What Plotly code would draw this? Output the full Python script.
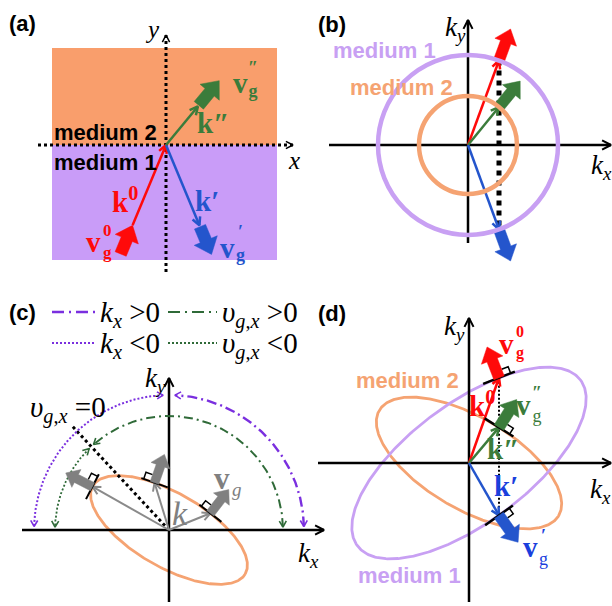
import numpy as np
import plotly.graph_objects as go

W, H = 612, 606
SERIF = "Liberation Serif"
SANS = "Liberation Sans"

# ---------------- (a) rays at a flat interface (real space) ----------------
A_MEDIUM2_BOX = [-114, 111, 0, 97]        # x0, x1, y0, y1
A_MEDIUM1_BOX = [-114, 111, -115, 0]
A_AXIS_X = [-128, 127]
A_AXIS_Y = [-127, 110]
A_RAY_NAMES = ["incident", "reflected", "transmitted"]
A_RAY_ANGLES = [67.4, -67.4, 50.4]        # degrees from +x
A_K_LENGTHS = [87, 87, 50]
A_VG_LENGTHS = [31, 30, 32]

# ---------------- (b) isotropic media: circular contours ----------------
B_RADII = [90, 49]                        # medium 1, medium 2
B_KX = 31                                 # conserved tangential wavevector
B_VG_LENGTH = 32
B_AXIS_X = [-139, 143]
B_AXIS_Y = [-98, 125]

# ---------------- (c) anisotropic contour, group velocity normal to it ----------------
C_ELLIPSE = [88, 37, -30]                 # semi-major, semi-minor, tilt (deg)
C_K_ANGLES = [150.5, 107, 22]             # sampled wavevector directions
C_MARK_SIDES = [1, -1, -1]
C_VG_LENGTH = 30
C_ARC_RADII = [135, 114]                  # sign of k_x arcs, sign of v_gx arcs
C_V0_LENGTH = 141
C_AXIS_X = [-147, 155]
C_AXIS_Y = [-72, 152]

# ---------------- (d) anisotropic media 1 and 2 ----------------
D_MEDIUM1 = [139, 60, 36.6]
D_MEDIUM2 = [104, 46, -30.4]
D_KX = 30
D_VG_LENGTH = 33
D_AXIS_X = [-151, 142]
D_AXIS_Y = [-139, 145]

# canvas position (px) of each panel's origin
PANEL_ORIGINS = [(166, 145), (468, 145), (169, 530), (469, 463)]

ORANGE_FILL = "#F99E6C"
PURPLE_FILL = "#C99CF8"
ORANGE_LINE = "#F5A372"
PURPLE_LINE = "#C8A0F3"
RED = "#FF0A0A"
GREEN = "#3B7C3B"
BLUE = "#2455CC"
DBLUE = "#1A3FDD"
GRAY = "#808080"
VIOLET = "#7A2FDF"
DKGREEN = "#2F6A38"

fig = go.Figure()


def refs(p):
    return ("x", "y") if p == 1 else (f"x{p}", f"y{p}")


def unit(deg):
    r = np.radians(deg)
    return np.array([np.cos(r), np.sin(r)])


def rot(v, deg):
    r = np.radians(deg)
    c, s = np.cos(r), np.sin(r)
    return np.array([v[0] * c - v[1] * s, v[0] * s + v[1] * c])


def path(p, pts, color, width, dash=None):
    pts = np.asarray(pts, float)
    xr, yr = refs(p)
    fig.add_trace(go.Scatter(x=pts[:, 0], y=pts[:, 1], mode="lines",
                             line=dict(color=color, width=width, dash=dash),
                             xaxis=xr, yaxis=yr, hoverinfo="skip", showlegend=False))


def polygon(p, pts, color):
    pts = np.asarray(pts, float)
    xr, yr = refs(p)
    fig.add_trace(go.Scatter(x=np.append(pts[:, 0], pts[0, 0]), y=np.append(pts[:, 1], pts[0, 1]),
                             mode="lines", fill="toself", fillcolor=color,
                             line=dict(color=color, width=0.5),
                             xaxis=xr, yaxis=yr, hoverinfo="skip", showlegend=False))


def head(p, tip, d, color, width, size=8, spread=27):
    d = np.asarray(d, float)
    back = -d / np.linalg.norm(d)
    tip = np.asarray(tip, float)
    path(p, [tip + size * rot(back, spread), tip, tip + size * rot(back, -spread)], color, width)


def arrow(p, start, end, color, width, size=8, dash=None):
    start, end = np.asarray(start, float), np.asarray(end, float)
    path(p, [start, end], color, width, dash)
    head(p, end, end - start, color, width, size)


def fat(p, start, d, length, color, shaft=10, hw=20, hl=13):
    d = np.asarray(d, float)
    d = d / np.linalg.norm(d)
    n = np.array([-d[1], d[0]])
    start = np.asarray(start, float)
    neck = start + d * (length - hl)
    tip = start + d * length
    polygon(p, [start + n * shaft / 2, neck + n * shaft / 2, neck + n * hw / 2, tip,
                neck - n * hw / 2, neck - n * shaft / 2, start - n * shaft / 2], color)


def tangent(p, pt, nrm, side, half=17, box=6, shaft=10, width=2.5):
    t = np.array([nrm[1], -nrm[0]]) * side
    pt = np.asarray(pt, float)
    path(p, [pt - half * t, pt + half * t], "black", width)
    path(p, [pt + (shaft / 2) * t + box * nrm, pt + (shaft / 2 + box) * t + box * nrm,
             pt + (shaft / 2 + box) * t], "black", 1.5)


def label(p, x, y, s, size, color="black", family=SERIF, anchor="center"):
    xr, yr = refs(p)
    fig.add_annotation(x=x, y=y, xref=xr, yref=yr, text=s, showarrow=False,
                       font=dict(family=family, size=size, color=color),
                       xanchor=anchor, yanchor="middle", borderpad=0)


def axes(p, xs, ys, width=2.5):
    path(p, [[xs[0], 0], [xs[1], 0]], "black", width)
    head(p, [xs[1], 0], [1, 0], "black", 2, size=10)
    path(p, [[0, ys[0]], [0, ys[1]]], "black", width)
    head(p, [0, ys[1]], [0, 1], "black", 2, size=10)


# ---- conic helpers for the iso-frequency contours ----
def conic(a, b, tilt):
    t = np.radians(tilt)
    c, s = np.cos(t), np.sin(t)
    return (c * c / a ** 2 + s * s / b ** 2, 2 * s * c * (1 / a ** 2 - 1 / b ** 2), s * s / a ** 2 + c * c / b ** 2)


def contour(a, b, tilt, n=361):
    t = np.linspace(0, 2 * np.pi, n)
    th = np.radians(tilt)
    x = a * np.cos(t) * np.cos(th) - b * np.sin(t) * np.sin(th)
    y = a * np.cos(t) * np.sin(th) + b * np.sin(t) * np.cos(th)
    return np.column_stack([x, y])


def on_ray(q, deg):
    A, B, C = q
    d = unit(deg)
    return d / np.sqrt(A * d[0] ** 2 + B * d[0] * d[1] + C * d[1] ** 2)


def at_kx(q, kx):
    A, B, C = q
    disc = np.sqrt((B * kx) ** 2 - 4 * C * (A * kx ** 2 - 1))
    return np.array([kx, (-B * kx + disc) / (2 * C)]), np.array([kx, (-B * kx - disc) / (2 * C)])


def normal(q, pt):
    A, B, C = q
    g = np.array([2 * A * pt[0] + B * pt[1], B * pt[0] + 2 * C * pt[1]])
    return g / np.linalg.norm(g)


def arc(p, r, a0, a1, color, width, dash):
    ang = np.radians(np.linspace(a0, a1, 120))
    path(p, np.column_stack([r * np.cos(ang), r * np.sin(ang)]), color, width, dash)
    head(p, r * unit(a1), rot(unit(a1), 90), color, 1.6, size=7, spread=30)
    head(p, r * unit(a0), rot(unit(a0), -90), color, 1.6, size=7, spread=30)


VSIZE = 29      # bold vector letters
SSIZE = 17      # their stacked super/subscripts

# ======================= panel (a) =======================
fig.add_shape(type="rect", xref="x", yref="y", x0=A_MEDIUM2_BOX[0], x1=A_MEDIUM2_BOX[1],
              y0=A_MEDIUM2_BOX[2], y1=A_MEDIUM2_BOX[3], fillcolor=ORANGE_FILL, line_width=0, layer="below")
fig.add_shape(type="rect", xref="x", yref="y", x0=A_MEDIUM1_BOX[0], x1=A_MEDIUM1_BOX[1],
              y0=A_MEDIUM1_BOX[2], y1=A_MEDIUM1_BOX[3], fillcolor=PURPLE_FILL, line_width=0, layer="below")
path(1, [[A_AXIS_X[0], 0], [A_AXIS_X[1], 0]], "black", 3, "dot")
head(1, [A_AXIS_X[1], 0], [1, 0], "black", 1.5, size=8)
path(1, [[0, A_AXIS_Y[0]], [0, A_AXIS_Y[1]]], "black", 3, "dot")
head(1, [0, A_AXIS_Y[1]], [0, 1], "black", 1.5, size=8)

ray_colors = [RED, BLUE, GREEN]
for name, ang, kl, vl, col in zip(A_RAY_NAMES, A_RAY_ANGLES, A_K_LENGTHS, A_VG_LENGTHS, ray_colors):
    d = unit(ang)
    if name == "incident":
        tail = -kl * d
        arrow(1, tail, [0, 0], col, 2.5, size=9)
        fat(1, tail - vl * d, d, vl, col, shaft=12, hw=25, hl=15)
    else:
        tip = kl * d
        arrow(1, [0, 0], tip, col, 2.5, size=9)
        fat(1, tip + 1.5 * d, d, vl, col, shaft=12, hw=25, hl=15)

label(1, -144, 122, "<b>(a)</b>", 22, family=SANS)
label(1, -14, 116, "<i>y</i>", 25)
label(1, 128, -15, "<i>x</i>", 25)
label(1, -61, 13, "<b>medium 2</b>", 22, family=SANS)
label(1, -61, -17, "<b>medium 1</b>", 22, family=SANS)
label(1, -41, -55, "<b>k</b><sup><b>0</b></sup>", VSIZE, RED)
label(1, -73, -97, "<b>v</b>", VSIZE, RED)
label(1, -59, -96, "<b>0</b><br><b>g</b>", SSIZE, RED)
label(1, 47, 22, "<b>k\u2033</b>", VSIZE, GREEN)
label(1, 74, 62, "<b>v</b>", VSIZE, GREEN)
label(1, 87, 66, "<b>\u2033</b><br><b>g</b>", 18, GREEN)
label(1, 41, -56, "<b>k\u2032</b>", VSIZE, BLUE)
label(1, 61, -103, "<b>v</b>", VSIZE, BLUE)
label(1, 74, -98, "<b>\u2032</b><br><b>g</b>", 18, BLUE)

# ======================= panel (b) =======================
for r, col in zip(B_RADII, [PURPLE_LINE, ORANGE_LINE]):
    fig.add_shape(type="circle", xref="x2", yref="y2", x0=-r, x1=r, y0=-r, y1=r,
                  line=dict(color=col, width=4.5))
axes(2, B_AXIS_X, B_AXIS_Y)
q1 = conic(B_RADII[0], B_RADII[0], 0)
q2 = conic(B_RADII[1], B_RADII[1], 0)
b_inc, b_ref = at_kx(q1, B_KX)
b_tr, _ = at_kx(q2, B_KX)
path(2, [b_inc, b_ref], "black", 5, "5px,5px")
for pt, col in [(b_inc, RED), (b_tr, GREEN), (b_ref, BLUE)]:
    arrow(2, [0, 0], pt, col, 2.5, size=9)
    d = pt / np.linalg.norm(pt)
    fat(2, pt + 1.5 * d, d, B_VG_LENGTH, col, shaft=11, hw=23, hl=14)
label(2, -136, 121, "<b>(b)</b>", 22, family=SANS)
label(2, -13, 116, "<i>k</i><sub><i>y</i></sub>", 27)
label(2, 133, -22, "<i>k</i><sub><i>x</i></sub>", 27)
label(2, -84, 95, "<b>medium 1</b>", 22, PURPLE_LINE, SANS)
label(2, -67, 58, "<b>medium 2</b>", 22, ORANGE_LINE, SANS)

# ======================= panel (c) =======================
qc = conic(*C_ELLIPSE)
path(3, contour(*C_ELLIPSE), ORANGE_LINE, 2.8)
axes(3, C_AXIS_X, C_AXIS_Y)
A_, B_, C_ = qc
phi0 = np.degrees(np.arctan2(2 * A_, -B_))      # direction where v_gx = 0
path(3, [[0, 0], C_V0_LENGTH * unit(phi0)], "black", 3, "dot")
rk, rv = C_ARC_RADII
arc(3, rk, 1.5, 87.5, VIOLET, 2.4, "10px,4px,2px,4px")
arc(3, rk, 92.5, 178.5, VIOLET, 2.0, "2px,2px")
arc(3, rv, 1.5, phi0 - 1.5, DKGREEN, 2.0, "9px,4px,2px,4px")
arc(3, rv, phi0 + 1.5, 178.5, DKGREEN, 1.8, "2px,2px")
for ang, side in zip(C_K_ANGLES, C_MARK_SIDES):
    pt = on_ray(qc, ang)
    n = normal(qc, pt)
    arrow(3, [0, 0], pt, "#8A8A8A", 2, size=9)
    tangent(3, pt, n, side, half=14, box=7, shaft=9, width=2)
    fat(3, pt, n, C_VG_LENGTH, GRAY, shaft=9, hw=20, hl=12)

label(3, -147, 218, "<b>(c)</b>", 22, family=SANS)
path(3, [[-117, 218], [-74, 218]], VIOLET, 2.4, "12px,5px,2px,5px")
path(3, [[-117, 187], [-74, 187]], VIOLET, 2.0, "2px,2px")
path(3, [[-1, 218], [48, 218]], DKGREEN, 2.0, "12px,5px,2px,5px")
path(3, [[-1, 187], [48, 187]], DKGREEN, 1.8, "2px,2px")
label(3, -70, 216, "<i>k</i><sub><i>x</i></sub> &gt;0", 29, anchor="left")
label(3, -70, 185, "<i>k</i><sub><i>x</i></sub> &lt;0", 29, anchor="left")
label(3, 52, 216, "<i>\u03c5</i><sub><i>g</i>,<i>x</i></sub> &gt;0", 29, anchor="left")
label(3, 52, 185, "<i>\u03c5</i><sub><i>g</i>,<i>x</i></sub> &lt;0", 29, anchor="left")
label(3, -140, 121, "<i>\u03c5</i><sub><i>g</i>,<i>x</i></sub> =0", 29, anchor="left")
label(3, -14, 150, "<i>k</i><sub><i>y</i></sub>", 27)
label(3, 139, -25, "<i>k</i><sub><i>x</i></sub>", 27)
label(3, 11, 17, "<i>k</i>", 34, GRAY)
label(3, 53, 52, "<b>v</b>", 31, GRAY)
label(3, 68, 41, "<i>g</i>", 19, GRAY)

# ======================= panel (d) =======================
qd1 = conic(*D_MEDIUM1)
qd2 = conic(*D_MEDIUM2)
path(4, contour(*D_MEDIUM2), ORANGE_LINE, 2.8)
path(4, contour(*D_MEDIUM1), PURPLE_LINE, 2.8)
axes(4, D_AXIS_X, D_AXIS_Y)
d_inc, d_ref = at_kx(qd1, D_KX)
d_tr, _ = at_kx(qd2, D_KX)
path(4, [d_inc, d_ref], "black", 2, "2px,2px")
for pt, q, col, side in [(d_inc, qd1, RED, 1), (d_tr, qd2, GREEN, 1), (d_ref, qd1, BLUE, -1)]:
    arrow(4, [0, 0], pt, col, 2.5, size=9)
    n = normal(q, pt)
    tangent(4, pt, n, side, half=17, box=7, shaft=11)
    fat(4, pt, n, D_VG_LENGTH, col, shaft=11, hw=23, hl=14)

label(4, -137, 150, "<b>(d)</b>", 22, family=SANS)
label(4, -15, 135, "<i>k</i><sub><i>y</i></sub>", 27)
label(4, 131, -28, "<i>k</i><sub><i>x</i></sub>", 27)
label(4, -62, 83, "<b>medium 2</b>", 22, ORANGE_LINE, SANS)
label(4, -60, -112, "<b>medium 1</b>", 22, PURPLE_LINE, SANS)
label(4, 37, 119, "<b>v</b>", VSIZE, RED)
label(4, 51, 121, "<b>0</b><br><b>g</b>", 16, RED)
label(4, 13, 59, "<b>k</b><sup><b>0</b></sup>", VSIZE, RED)
label(4, 54, 58, "<b>v</b>", VSIZE, GREEN)
label(4, 68, 59, "<b>\u2033</b><br>g", 18, GREEN)
label(4, 34, 14, "<b>k\u2033</b>", VSIZE, GREEN)
label(4, 37, -23, "<b>k\u2032</b>", VSIZE, DBLUE)
label(4, 61, -84, "<b>v</b>", VSIZE, DBLUE)
label(4, 74, -84, "<b>\u2032</b><br>g", 18, DBLUE)

# ---- one full-canvas coordinate frame per panel, 1 unit = 1 px ----
layout_axes = {}
for i, (ox, oy) in enumerate(PANEL_ORIGINS, start=1):
    sx = "" if i == 1 else str(i)
    xa = dict(domain=[0, 1], range=[-ox, W - ox], visible=False, fixedrange=True)
    ya = dict(domain=[0, 1], range=[oy - H, oy], visible=False, fixedrange=True)
    if i > 1:
        xa["anchor"] = f"y{i}"
        ya["anchor"] = f"x{i}"
    layout_axes[f"xaxis{sx}"] = xa
    layout_axes[f"yaxis{sx}"] = ya

fig.update_layout(width=W, height=H, margin=dict(l=0, r=0, t=0, b=0),
                  paper_bgcolor="white", plot_bgcolor="rgba(0,0,0,0)",
                  showlegend=False, **layout_axes)
fig.write_html("out.html")
